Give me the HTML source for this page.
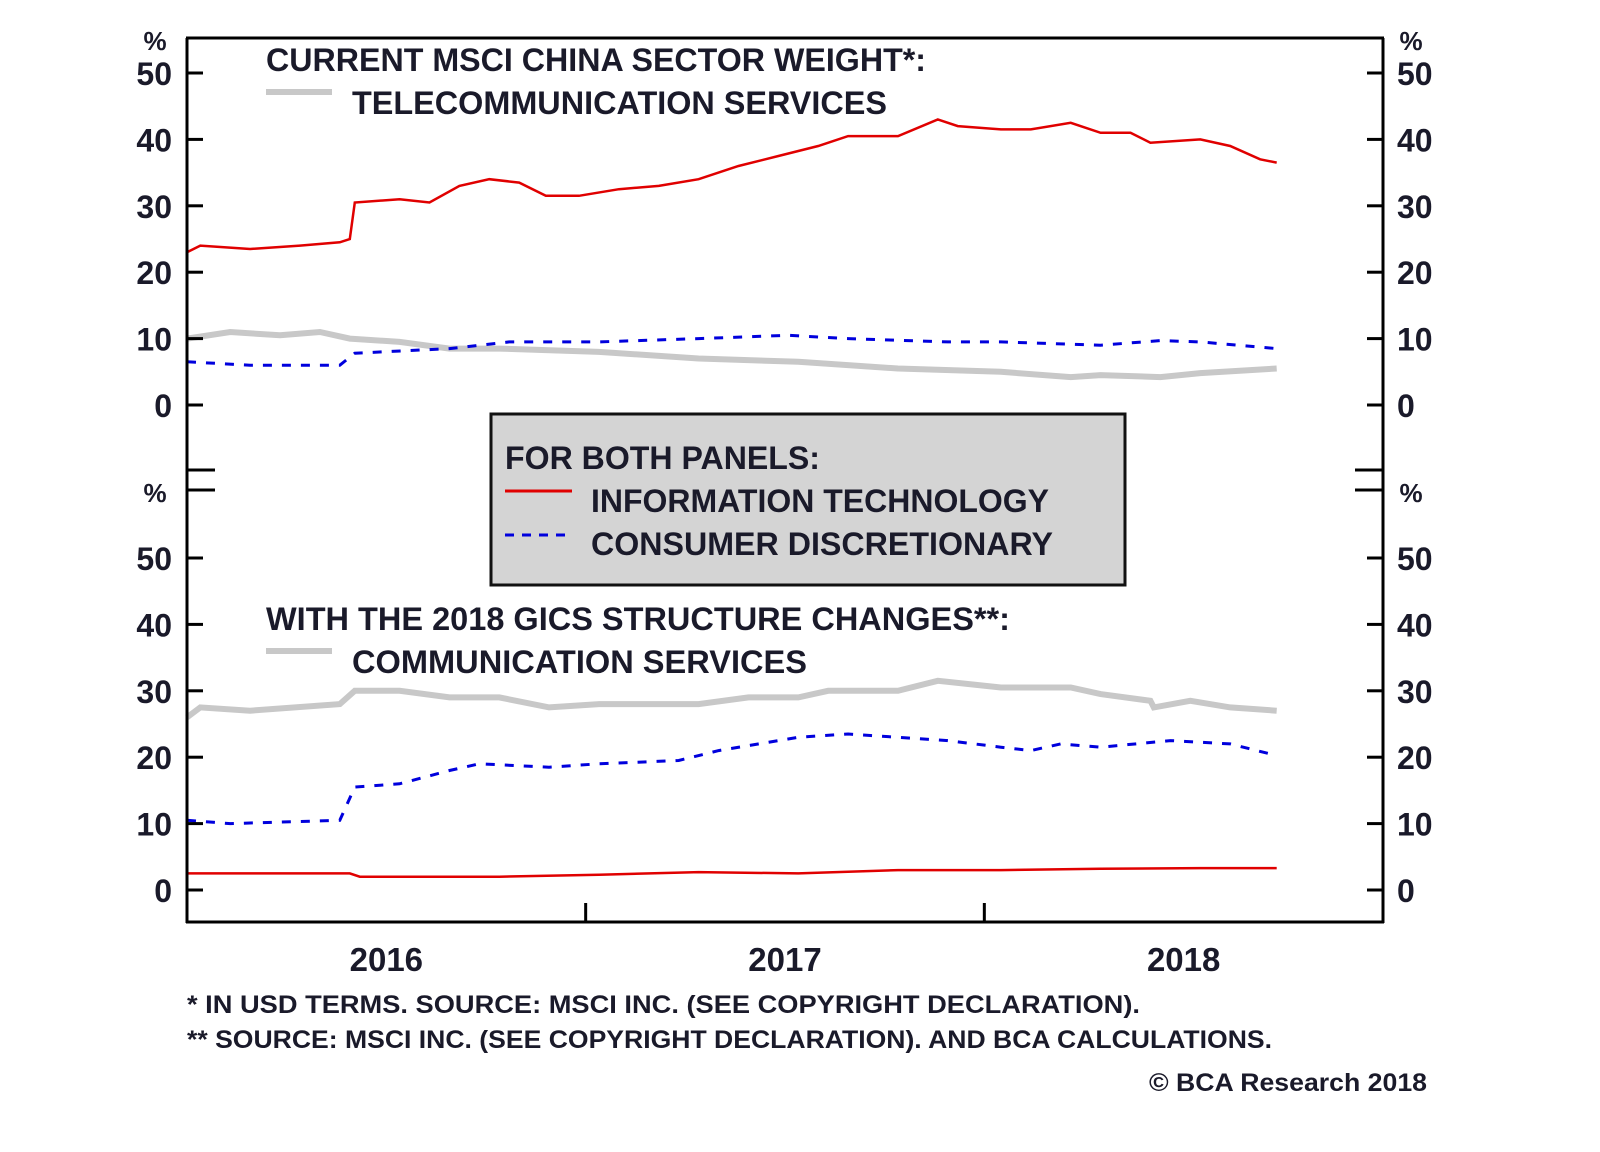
<!DOCTYPE html>
<html><head><meta charset="utf-8"><style>
html,body{margin:0;padding:0;background:#fff;}
svg{display:block;}
text{font-family:"Liberation Sans",Arial,sans-serif;font-weight:bold;fill:#1a1a2a;}
</style></head><body>
<svg id="chart" width="1600" height="1152" viewBox="0 0 1600 1152" xmlns="http://www.w3.org/2000/svg">
<g id="marks"></g>
<g id="frame" stroke="#000" stroke-width="3" fill="none">
<line x1="187" y1="38" x2="187" y2="923"/>
<line x1="1383" y1="38" x2="1383" y2="923"/>
<line x1="186" y1="38" x2="1384" y2="38"/>
<line x1="186" y1="922" x2="1384" y2="922"/>
<line x1="187" y1="470" x2="215" y2="470"/>
<line x1="1355" y1="470" x2="1383" y2="470"/>
<line x1="187" y1="490" x2="215" y2="490"/>
<line x1="1355" y1="490" x2="1383" y2="490"/>
</g>
<g id="axes"></g>
<text x="266" y="71" font-size="32" textLength="660" lengthAdjust="spacingAndGlyphs">CURRENT MSCI CHINA SECTOR WEIGHT*:</text>
<line x1="266" y1="92" x2="332" y2="92" stroke="#c8c8c8" stroke-width="6"/>
<text x="352" y="114" font-size="32" textLength="535" lengthAdjust="spacingAndGlyphs">TELECOMMUNICATION SERVICES</text>
<text x="266" y="630" font-size="32" textLength="744" lengthAdjust="spacingAndGlyphs">WITH THE 2018 GICS STRUCTURE CHANGES**:</text>
<line x1="266" y1="651" x2="332" y2="651" stroke="#c8c8c8" stroke-width="6"/>
<text x="352" y="673" font-size="32" textLength="455" lengthAdjust="spacingAndGlyphs">COMMUNICATION SERVICES</text>
<g>
<rect x="491" y="414" width="634" height="171" fill="#d4d4d4" stroke="#111" stroke-width="3"/>
<text x="505" y="469" font-size="32" textLength="315" lengthAdjust="spacingAndGlyphs">FOR BOTH PANELS:</text>
<line x1="505" y1="491" x2="572" y2="491" stroke="#e00000" stroke-width="3"/>
<text x="591" y="512" font-size="32" textLength="458" lengthAdjust="spacingAndGlyphs">INFORMATION TECHNOLOGY</text>
<line x1="505" y1="535" x2="572" y2="535" stroke="#0000dd" stroke-width="3" stroke-dasharray="9,8"/>
<text x="591" y="555" font-size="32" textLength="462" lengthAdjust="spacingAndGlyphs">CONSUMER DISCRETIONARY</text>
</g>
<text x="187" y="1013" font-size="25" textLength="953" lengthAdjust="spacingAndGlyphs">*   IN USD TERMS. SOURCE: MSCI INC. (SEE COPYRIGHT DECLARATION).</text>
<text x="187" y="1048" font-size="25" textLength="1085" lengthAdjust="spacingAndGlyphs">** SOURCE: MSCI INC. (SEE COPYRIGHT DECLARATION). AND BCA CALCULATIONS.</text>
<text x="1427" y="1091" font-size="25" text-anchor="end" textLength="278" lengthAdjust="spacingAndGlyphs">© BCA Research 2018</text>
</svg>
<script>
const yTicks=[0,10,20,30,40,50];
const yearLabels=["2016","2017","2018"];
const itTopM=[0,0.4,1.9,3.4,4.6,4.9,5.05,6.4,7.3,8.2,9.1,10.0,10.8,11.8,13.0,14.2,15.4,16.6,17.8,19.0,19.9,21.4,22.6,23.2,24.5,25.4,26.6,27.5,28.4,29.0,30.5,31.4,32.3,32.8];
const itTopV=[23,24,23.5,24,24.5,25,30.5,31,30.5,33,34,33.5,31.5,31.5,32.5,33,34,36,37.5,39,40.5,40.5,43,42,41.5,41.5,42.5,41,41,39.5,40,39,37,36.5];
const telTopM=[0,1.3,2.8,4.0,4.9,6.4,7.9,9.4,12.4,15.4,18.4,21.4,24.5,26.6,27.5,29.3,30.5,32.8];
const telTopV=[10,11,10.5,11,10,9.5,8.5,8.5,8,7,6.5,5.5,5,4.2,4.5,4.2,4.8,5.5];
const cdTopM=[0,1.9,4.6,5.05,7.9,9.7,12.4,15.4,18.1,19.9,22.9,24.5,27.5,29.3,30.5,32.8];
const cdTopV=[6.5,6,6,7.8,8.5,9.5,9.5,10,10.5,10,9.5,9.5,9,9.7,9.5,8.5];
const comBotM=[0,0.4,1.9,4.6,5.05,6.4,7.9,9.4,10.9,12.4,15.4,16.9,18.4,19.3,21.4,22.6,24.5,26.6,27.5,29.0,29.1,30.2,31.4,32.8];
const comBotV=[26,27.5,27,28,30,30,29,29,27.5,28,28,29,29,30,30,31.5,30.5,30.5,29.5,28.5,27.5,28.5,27.5,27];
const cdBotM=[0,1.3,4.6,5.05,6.4,7.9,8.8,10.9,12.4,14.8,16.0,18.4,19.9,21.4,22.9,24.5,25.4,26.3,27.5,29.6,31.4,32.6];
const cdBotV=[10.5,10,10.5,15.5,16,18,19,18.5,19,19.5,21,23,23.5,23,22.5,21.5,21,22,21.5,22.5,22,20.5];
const itBotM=[0,4.9,5.2,9.4,12.4,15.4,18.4,21.4,24.5,27.5,30.5,32.8];
const itBotV=[2.5,2.5,2,2,2.3,2.7,2.5,3,3,3.2,3.3,3.3];

const NS="http://www.w3.org/2000/svg";
const x=m=>187+m*(1196/36);
const yTop=v=>405-v*6.64;
const yBot=v=>890-v*6.64;
const marks=document.getElementById('marks'), axes=document.getElementById('axes');
function mk(tag,parent,attrs){const e=document.createElementNS(NS,tag);for(const k in attrs)e.setAttribute(k,attrs[k]);parent.appendChild(e);return e;}
function series(ms,vs,yf,name,color,w,dash){
  const d=ms.map((m,i)=>(i?'L':'M')+x(m).toFixed(1)+','+yf(vs[i]).toFixed(1)).join('');
  const p=mk('path',marks,{d:d,fill:'none',stroke:color,'stroke-width':w});
  if(dash)p.setAttribute('stroke-dasharray',dash);
  
  
}
series(telTopM,telTopV,yTop,'telecom-line-top','#c8c8c8',6);
series(comBotM,comBotV,yBot,'comm-services-line-bottom','#c8c8c8',6);
series(cdTopM,cdTopV,yTop,'consumer-disc-line-top','#0000dd',3,'9,10');
series(cdBotM,cdBotV,yBot,'consumer-disc-line-bottom','#0000dd',3,'9,10');
series(itTopM,itTopV,yTop,'it-line-top','#e00000',2.5);
series(itBotM,itBotV,yBot,'it-line-bottom','#e00000',2.5);

[[yTop,'top'],[yBot,'bottom']].forEach(([yf,pn])=>{
  yTicks.forEach(v=>{
    const yy=yf(v);
    const t1=mk('line',axes,{x1:187,y1:yy,x2:203,y2:yy,stroke:'#000','stroke-width':3});
    
    
    const t2=mk('line',axes,{x1:1367,y1:yy,x2:1383,y2:yy,stroke:'#000','stroke-width':3});
    
    
    const l=mk('text',axes,{x:172,y:yy+12,'font-size':32,'text-anchor':'end'});l.textContent=v;
    
    
    const r=mk('text',axes,{x:1397,y:yy+12,'font-size':32});r.textContent=v;
    
    
  });
  const py=pn==='top'?50:502;
  const pl=mk('text',axes,{x:155,y:py,'font-size':26,'text-anchor':'middle'});pl.textContent='%';
  
  
  const pr=mk('text',axes,{x:1411,y:py,'font-size':26,'text-anchor':'middle'});pr.textContent='%';
  
  
});
yearLabels.forEach((yl,i)=>{
  if(i>0){const t=mk('line',axes,{x1:x(i*12),y1:922,x2:x(i*12),y2:903,stroke:'#000','stroke-width':3});
    
    }
  const l=mk('text',axes,{x:x(i*12+6),y:971,'font-size':33,'text-anchor':'middle'});l.textContent=yl;
  
  
});
</script>
</body></html>
